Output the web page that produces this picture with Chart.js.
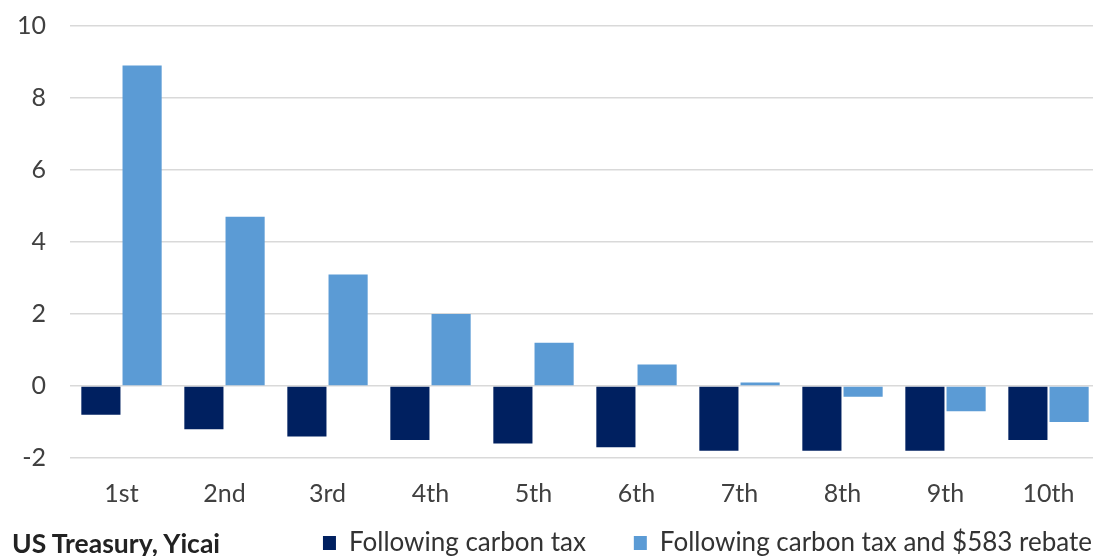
<!DOCTYPE html>
<html lang="en">
<head>
  <meta charset="utf-8" />
  <title>Carbon tax by income decile</title>
  <script src="https://cdn.jsdelivr.net/npm/chart.js"></script>
  <style>
    html, body {
      margin: 0;
      padding: 0;
      background: #fff;
      overflow: hidden;
    }
    .wrap {
      position: relative;
      width: 1093px;
      height: 556px;
      overflow: hidden;
    }
    .box {
      position: absolute;
      left: 0;
      top: 0;
      width: 1100px;
      height: 566px;
    }
    .source {
      position: absolute;
      left: 12px;
      top: 530px;
      font-family: Lato, 'Open Sans', sans-serif;
      font-weight: bold;
      font-size: 26.5px;
      line-height: 26px;
      color: #222;
      white-space: nowrap;
    }
  </style>
</head>
<body>
  <div class="wrap">
    <div class="box"><canvas id="chart"></canvas></div>
    <div class="source">US Treasury, Yicai</div>
  </div>

  <script>
    const deciles = ['1st', '2nd', '3rd', '4th', '5th', '6th', '7th', '8th', '9th', '10th'];
    const carbonTax = [-0.8, -1.2, -1.4, -1.5, -1.6, -1.7, -1.8, -1.8, -1.8, -1.5];
    const taxAndRebate = [8.9, 4.7, 3.1, 2.0, 1.2, 0.6, 0.1, -0.3, -0.7, -1.0];
    const yTicks = [-2, 0, 2, 4, 6, 8, 10];

    const font = "Lato, 'Open Sans', sans-serif";

    new Chart(document.getElementById('chart').getContext('2d'), {
      type: 'bar',
      data: {
        labels: deciles,
        datasets: [
          {
            // trailing spaces widen the gap before the second legend item
            label: 'Following carbon tax      ',
            data: carbonTax,
            backgroundColor: '#002060',
            borderWidth: 0
          },
          {
            label: 'Following carbon tax and $583 rebate',
            data: taxAndRebate,
            backgroundColor: '#5b9bd5',
            borderWidth: 0
          }
        ]
      },
      options: {
        responsive: true,
        maintainAspectRatio: false,
        animation: false,
        layout: { padding: { top: 26, right: 0, left: -7, bottom: 0 } },
        datasets: {
          bar: { categoryPercentage: 0.8, barPercentage: 0.95 }
        },
        scales: {
          x: {
            grid: { display: false },
            border: { display: false },
            ticks: { color: '#404040', font: { family: font, size: 25 }, padding: 13 }
          },
          y: {
            min: -2,
            max: 10,
            afterBuildTicks: axis => { axis.ticks = yTicks.map(v => ({ value: v })); },
            // let the top label hang above the plot instead of pushing it down
            afterFit: axis => { axis.paddingTop = 0; axis.paddingBottom = 0; },
            grid: { color: '#d9d9d9', lineWidth: 1.5, drawTicks: false },
            border: { display: false },
            ticks: { color: '#404040', font: { family: font, size: 25 }, padding: 24 }
          }
        },
        plugins: {
          legend: {
            position: 'bottom',
            align: 'end',
            labels: {
              color: '#333',
              font: { family: font, size: 26 },
              boxWidth: 13,
              boxHeight: 14,
              padding: 8
            }
          },
          tooltip: { enabled: false }
        }
      }
    });
  </script>
</body>
</html>
